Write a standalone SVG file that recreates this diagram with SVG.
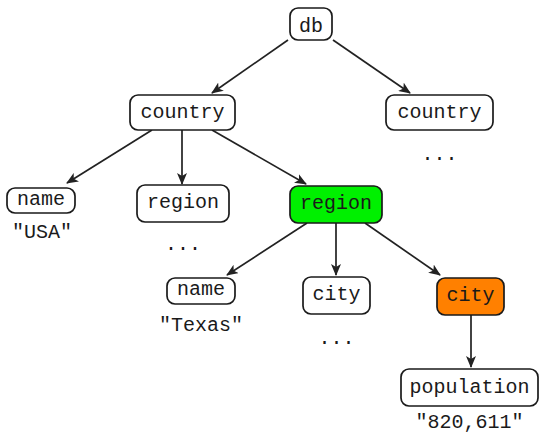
<svg xmlns="http://www.w3.org/2000/svg" width="541" height="433" viewBox="0 0 541 433">
<style>
.n{fill:#fff;stroke:#1a1a1a;stroke-width:1.7}
.t{font-family:"Liberation Mono","DejaVu Sans Mono",monospace;font-size:20px;fill:#1a1a1a;text-anchor:middle}
.e{stroke:#222;stroke-width:1.7;fill:none;marker-end:url(#a)}
</style>
<defs>
<marker id="a" viewBox="0 0 12 10" refX="11" refY="5" markerWidth="12" markerHeight="10" markerUnits="userSpaceOnUse" orient="auto">
<path d="M0,0 L12,5 L0,10 L3,5 Z" fill="#222"/>
</marker>
</defs>
<g id="edges">
<line class="e" x1="288" y1="40" x2="212" y2="93"/>
<line class="e" x1="333" y1="40" x2="410" y2="93"/>
<line class="e" x1="152" y1="130" x2="67" y2="183"/>
<line class="e" x1="182" y1="130" x2="182" y2="184"/>
<line class="e" x1="212" y1="130" x2="306" y2="184"/>
<line class="e" x1="307" y1="223" x2="227" y2="275"/>
<line class="e" x1="336" y1="223" x2="336" y2="275"/>
<line class="e" x1="365" y1="223" x2="440" y2="275"/>
<line class="e" x1="471" y1="315" x2="471" y2="367"/>
</g>
<g id="db"><rect class="n" x="290" y="8" width="42" height="32" rx="8"/><text class="t" x="311" y="32">db</text></g>
<g id="country1"><rect class="n" x="130" y="95" width="105" height="35" rx="8"/><text class="t" x="182.5" y="118">country</text></g>
<g id="country2"><rect class="n" x="386" y="95" width="107" height="35" rx="8"/><text class="t" x="439.5" y="118">country</text><text class="t" x="439.5" y="160">...</text></g>
<g id="name1"><rect class="n" x="7" y="188" width="68" height="25" rx="8"/><text class="t" x="41" y="205">name</text><text class="t" x="42" y="238">"USA"</text></g>
<g id="region1"><rect class="n" x="137" y="185" width="92" height="37" rx="8"/><text class="t" x="183" y="208">region</text><text class="t" x="183" y="250">...</text></g>
<g id="region2"><rect class="n" x="290" y="186" width="92" height="37" rx="8" style="fill:#00f000"/><text class="t" x="336" y="209">region</text></g>
<g id="name2"><rect class="n" x="167" y="278" width="68" height="26" rx="8"/><text class="t" x="201" y="295">name</text><text class="t" x="201" y="331">"Texas"</text></g>
<g id="city1"><rect class="n" x="303" y="277" width="67" height="37" rx="8"/><text class="t" x="336.5" y="300">city</text><text class="t" x="336.5" y="344">...</text></g>
<g id="city2"><rect class="n" x="437" y="278" width="67" height="37" rx="8" style="fill:#ff8000"/><text class="t" x="470.5" y="301">city</text></g>
<g id="population"><rect class="n" x="401" y="369" width="137" height="37" rx="8"/><text class="t" x="469.5" y="393">population</text><text class="t" x="469.5" y="428">"820,611"</text></g>
</svg>
